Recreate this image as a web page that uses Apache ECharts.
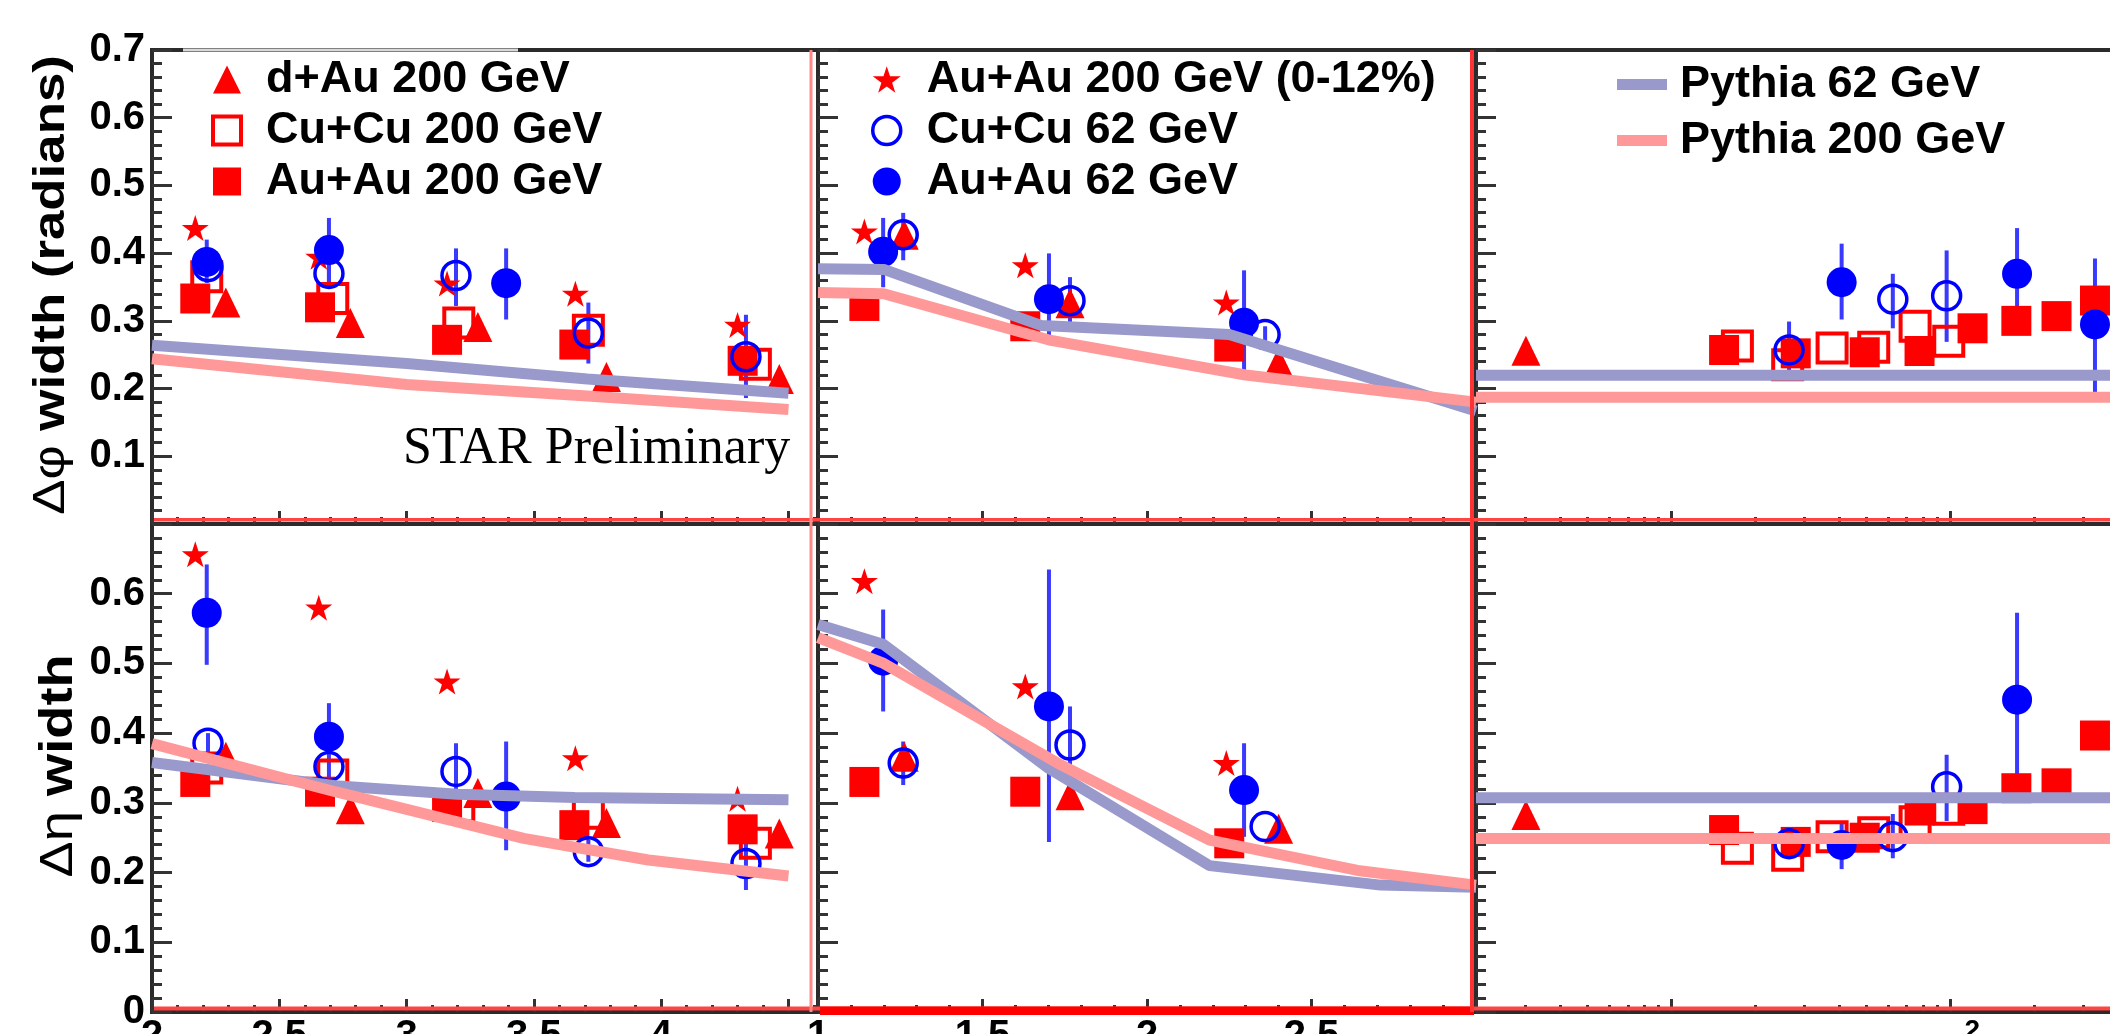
<!DOCTYPE html>
<html><head><meta charset="utf-8">
<script src="https://cdn.jsdelivr.net/npm/echarts@6/dist/echarts.min.js"></script>
<style>html,body{margin:0;padding:0;background:#fff;}#c{width:2110px;height:1034px;}</style>
</head><body><div id="c"></div>
<script>
// ---------------- DATA ----------------
// tick values / labels
const yTicksTop = [0.1,0.2,0.3,0.4,0.5,0.6,0.7];
const yTicksBottom = [0,0.1,0.2,0.3,0.4,0.5,0.6];
const xTicksTrig = [2,2.5,3,3.5,4,4.5];
const xLabelsTrig = [2,2.5,3,3.5,4];
const xTicksAssoc = [1,1.5,2,2.5,3];
const xLabelsAssoc = [1,1.5,2,2.5];
const xTicksNpart = [10,100];
const xMinorNpart = [3,4,5,6,7,8,9,20,30,40,50,60,70,80,90,200,300,400];

// Panel: Δφ width vs pT trigger (top-left)
const dphiTrig_Pythia62  = [[2,0.264],[3,0.237],[3.71,0.214],[4.5,0.193]];
const dphiTrig_Pythia200 = [[2,0.244],[3,0.206],[3.71,0.189],[4.5,0.169]];
const dphiTrig_AuAu200   = [[2.17,0.333],[2.66,0.320],[3.159,0.272],[3.659,0.265],[4.32,0.241]];
const dphiTrig_CuCu200   = [[2.215,0.365],[2.71,0.333],[3.205,0.297],[3.714,0.286],[4.37,0.236]];
const dphiTrig_dAu200    = [[2.29,0.327],[2.779,0.297],[3.28,0.291],[3.785,0.217],[4.464,0.214]];
const dphiTrig_AuAu200c  = [[2.17,0.437],[2.655,0.3945],[3.159,0.355],[3.663,0.340],[4.30,0.294]];
const dphiTrig_CuCu62    = [[2.22,0.38,0.38,0.38],[2.695,0.37,0.35,0.39],[3.194,0.367,0.322,0.407],[3.714,0.282,0.237,0.327],[4.333,0.247,0.186,0.309]];
const dphiTrig_AuAu62    = [[2.215,0.387,0.356,0.42],[2.695,0.4045,0.35,0.452],[3.391,0.3556,0.302,0.407]];

// Panel: Δφ width vs pT associated (top-middle)
const dphiAssoc_Pythia62  = [[1,0.377],[1.2,0.376],[1.68,0.293],[2.25,0.280],[3,0.167]];
const dphiAssoc_Pythia200 = [[1,0.342],[1.2,0.340],[1.7,0.272],[2.3,0.220],[3,0.180]];
const dphiAssoc_AuAu200   = [[1.141,0.322],[1.630,0.292],[2.25,0.262]];
const dphiAssoc_dAu200    = [[1.262,0.427],[1.766,0.326],[2.40,0.239]];
const dphiAssoc_AuAu200c  = [[1.141,0.432],[1.630,0.382],[2.241,0.327]];
const dphiAssoc_CuCu62    = [[1.259,0.427,0.3895,0.4595],[1.766,0.3297,0.2897,0.3646],[2.359,0.2797,0.268,0.292]];
const dphiAssoc_AuAu62    = [[1.198,0.402,0.3496,0.452],[1.702,0.332,0.2647,0.3996],[2.295,0.2972,0.2173,0.3746]];

// Panel: Δφ width vs Npart (top-right)
const dphiNpart_Pythia62  = [[2,0.2196],[480,0.2196]];
const dphiNpart_Pythia200 = [[2,0.187],[480,0.187]];
const dphiNpart_AuAu200   = [[15.5,0.257],[28.0,0.252],[49.5,0.2536],[77.8,0.2555],[120.5,0.289],[173,0.300],[241,0.307],[331,0.33]];
const dphiNpart_CuCu200   = [[17.3,0.263],[26.2,0.235],[37.8,0.260],[53.3,0.261],[75.0,0.292],[99.0,0.270]];
const dphiNpart_dAu200    = [[3.02,0.256]];
const dphiNpart_CuCu62    = [[26.5,0.257,0.227,0.299],[62.4,0.332,0.289,0.3695],[97.3,0.337,0.269,0.404]];
const dphiNpart_AuAu62    = [[40.9,0.357,0.302,0.414],[174,0.3695,0.302,0.437],[331,0.2947,0.195,0.392]];

// Panel: Δη width vs pT trigger (bottom-left)
const detaTrig_Pythia62  = [[2,0.358],[2.72,0.3245],[3.2,0.3125],[3.66,0.3077],[4.5,0.3044]];
const detaTrig_Pythia200 = [[2,0.385],[2.72,0.316],[3.46,0.249],[3.95,0.218],[4.5,0.195]];
const detaTrig_AuAu200   = [[2.17,0.330],[2.66,0.316],[3.159,0.294],[3.659,0.268],[4.32,0.262]];
const detaTrig_CuCu200   = [[2.215,0.350],[2.71,0.340],[3.205,0.294],[3.714,0.285],[4.37,0.242]];
const detaTrig_dAu200    = [[2.29,0.366],[2.779,0.291],[3.28,0.314],[3.785,0.271],[4.464,0.256]];
const detaTrig_AuAu200c  = [[2.17,0.6565],[2.655,0.580],[3.159,0.474],[3.663,0.364],[4.30,0.306]];
const detaTrig_CuCu62    = [[2.22,0.3855,0.37,0.40],[2.695,0.352,0.33,0.37],[3.194,0.345,0.306,0.3855],[3.714,0.230,0.2155,0.247],[4.333,0.213,0.175,0.256]];
const detaTrig_AuAu62    = [[2.215,0.5726,0.498,0.642],[2.695,0.395,0.3736,0.443],[3.391,0.309,0.232,0.388]];

// Panel: Δη width vs pT associated (bottom-middle)
const detaAssoc_Pythia62  = [[1,0.556],[1.2,0.527],[1.7,0.35],[2.19,0.21],[2.71,0.182],[3,0.179]];
const detaAssoc_Pythia200 = [[1,0.537],[1.2,0.50],[1.74,0.354],[2.19,0.2465],[2.64,0.203],[3,0.182]];
const detaAssoc_AuAu200   = [[1.141,0.330],[1.630,0.316],[2.25,0.242]];
const detaAssoc_dAu200    = [[1.262,0.366],[1.766,0.311],[2.40,0.263]];
const detaAssoc_AuAu200c  = [[1.141,0.618],[1.630,0.467],[2.241,0.357]];
const detaAssoc_CuCu62    = [[1.259,0.357,0.3256,0.388],[1.766,0.383,0.3305,0.4383],[2.359,0.266,0.266,0.266]];
const detaAssoc_AuAu62    = [[1.198,0.504,0.4311,0.5773],[1.702,0.4383,0.244,0.6349],[2.295,0.3184,0.2513,0.3855]];

// Panel: Δη width vs Npart (bottom-right)
const detaNpart_Pythia62  = [[2,0.3075],[480,0.3075]];
const detaNpart_Pythia200 = [[2,0.249],[480,0.249]];
const detaNpart_AuAu200   = [[15.5,0.261],[28.0,0.244],[49.5,0.250],[77.8,0.289],[120.5,0.291],[173,0.321],[241,0.328],[331,0.3966]];
const detaNpart_CuCu200   = [[17.3,0.235],[26.2,0.225],[37.8,0.2515],[53.3,0.257],[75.0,0.273],[99.0,0.291]];
const detaNpart_dAu200    = [[3.02,0.2826]];
const detaNpart_CuCu62    = [[26.5,0.2415,0.2415,0.2415],[62.4,0.2515,0.2205,0.284],[97.3,0.323,0.274,0.369]];
const detaNpart_AuAu62    = [[40.9,0.2396,0.205,0.272],[174,0.448,0.321,0.5726]];

// ---------------- STYLE / LAYOUT ----------------
const FONT = '"Liberation Sans", Arial, Helvetica, sans-serif';
const SERIF = '"Liberation Serif", "Times New Roman", serif';
const RED = '#ff0000', BLUE = '#0000ff', BLUE_ERR = '#3a3aff', PY62 = '#9999cc', PY200 = '#ff9999';
const FRAME = '#2b2b2b', TICK = '#333333';
const STAR = 'path://M50,0 L61.2,34.5 L97.6,34.5 L68.2,55.9 L79.4,90.5 L50,69.1 L20.6,90.5 L31.8,55.9 L2.4,34.5 L38.8,34.5 Z';
const NONE = 'rgba(0,0,0,0)';

const GX = [152, 818, 1476], GW = [666, 658, 664];
const GY = [50, 524], GH = [474, 488];

const minorTrig = []; for (let i = 21; i <= 46; i++) if (i % 5) minorTrig.push(i / 10);
const minorAssoc = []; for (let i = 11; i <= 29; i++) if (i % 5) minorAssoc.push(i / 10);

const xCfg = [
  {type: 'value', min: 2, max: 4.616, ticks: xTicksTrig, labels: xLabelsTrig, minor: minorTrig},
  {type: 'value', min: 1, max: 3, ticks: xTicksAssoc, labels: xLabelsAssoc, minor: minorAssoc},
  {type: 'log', min: 2, max: 480, ticks: xTicksNpart, labels: xTicksNpart, minor: xMinorNpart}
];

const panelData = [
  {py62: dphiTrig_Pythia62, py200: dphiTrig_Pythia200, AuAu200: dphiTrig_AuAu200, CuCu200: dphiTrig_CuCu200, dAu: dphiTrig_dAu200, star: dphiTrig_AuAu200c, CuCu62: dphiTrig_CuCu62, AuAu62: dphiTrig_AuAu62},
  {py62: dphiAssoc_Pythia62, py200: dphiAssoc_Pythia200, AuAu200: dphiAssoc_AuAu200, CuCu200: null, dAu: dphiAssoc_dAu200, star: dphiAssoc_AuAu200c, CuCu62: dphiAssoc_CuCu62, AuAu62: dphiAssoc_AuAu62},
  {py62: dphiNpart_Pythia62, py200: dphiNpart_Pythia200, AuAu200: dphiNpart_AuAu200, CuCu200: dphiNpart_CuCu200, dAu: dphiNpart_dAu200, star: null, CuCu62: dphiNpart_CuCu62, AuAu62: dphiNpart_AuAu62},
  {py62: detaTrig_Pythia62, py200: detaTrig_Pythia200, AuAu200: detaTrig_AuAu200, CuCu200: detaTrig_CuCu200, dAu: detaTrig_dAu200, star: detaTrig_AuAu200c, CuCu62: detaTrig_CuCu62, AuAu62: detaTrig_AuAu62},
  {py62: detaAssoc_Pythia62, py200: detaAssoc_Pythia200, AuAu200: detaAssoc_AuAu200, CuCu200: null, dAu: detaAssoc_dAu200, star: detaAssoc_AuAu200c, CuCu62: detaAssoc_CuCu62, AuAu62: detaAssoc_AuAu62},
  {py62: detaNpart_Pythia62, py200: detaNpart_Pythia200, AuAu200: detaNpart_AuAu200, CuCu200: detaNpart_CuCu200, dAu: detaNpart_dAu200, star: null, CuCu62: detaNpart_CuCu62, AuAu62: detaNpart_AuAu62}
];

const grids = [], xAxis = [], yAxis = [], series = [];
const labelFont = {fontSize: 40, fontWeight: 'bold', fontFamily: FONT, color: '#000'};

function errRender(params, api) {
  const x = api.value(0), lo = api.value(2), hi = api.value(3);
  const p1 = api.coord([x, lo]), p2 = api.coord([x, hi]);
  return {type: 'line', shape: {x1: p1[0], y1: p1[1], x2: p2[0], y2: p2[1]}, style: {stroke: BLUE_ERR, lineWidth: 4}};
}

for (let r = 0; r < 2; r++) {
  for (let c = 0; c < 3; c++) {
    const g = r * 3 + c;
    const cfg = xCfg[c];
    grids.push({left: GX[c], top: GY[r], width: GW[c], height: GH[r], show: true, borderColor: FRAME, borderWidth: 4,
      backgroundColor: 'transparent', containLabel: false, outerBoundsMode: 'none'});
    const base = {type: cfg.type, gridIndex: g, min: cfg.min, max: cfg.max, position: 'bottom', splitLine: {show: false}, axisLine: {show: false}};
    if (cfg.type === 'log') base.logBase = 10;
    xAxis.push(Object.assign({}, base, {
      axisTick: {show: true, inside: true, length: 13, customValues: cfg.ticks, lineStyle: {color: TICK, width: 3}},
      axisLabel: Object.assign({show: r === 1, customValues: cfg.labels, margin: 5,
        formatter: cfg.type === 'log'
          ? (v => Math.round(v) === 100 ? '{n|10}{s|2}' : '{n|10}')
          : (v => String(+v.toFixed(2))),
        rich: {n: {fontSize: 40, fontWeight: 'bold', fontFamily: FONT, color: '#000', lineHeight: 58, verticalAlign: 'bottom'},
               s: {fontSize: 28, fontWeight: 'bold', fontFamily: FONT, color: '#000', lineHeight: 28, verticalAlign: 'top'}}
      }, labelFont)
    }));
    xAxis.push(Object.assign({}, base, {
      axisTick: {show: true, inside: true, length: 7, customValues: cfg.minor, lineStyle: {color: TICK, width: 3}},
      axisLabel: {show: false}
    }));
    yAxis.push({type: 'value', gridIndex: g, min: 0, max: 0.7, interval: 0.1, splitLine: {show: false}, axisLine: {show: false},
      axisTick: {show: true, inside: true, length: 20, lineStyle: {color: TICK, width: 3}},
      minorTick: {show: true, splitNumber: 5, length: 10, lineStyle: {color: TICK, width: 3}},
      axisLabel: Object.assign({show: c === 0, customValues: r === 0 ? yTicksTop : yTicksBottom, margin: 7,
        formatter: v => (Math.abs(v) < 1e-9 ? '0' : (+v).toFixed(1))}, labelFont)
    });

    const d = panelData[g];
    const common = {xAxisIndex: 2 * g, yAxisIndex: g, silent: true, animation: false, emphasis: {disabled: true}};
    series.push(Object.assign({type: 'line', name: 'Pythia 62 GeV', data: d.py62, showSymbol: false, color: PY62,
      lineStyle: {width: 11, color: PY62, opacity: 1}, itemStyle: {color: PY62}}, common));
    series.push(Object.assign({type: 'line', name: 'Pythia 200 GeV', data: d.py200, showSymbol: false, color: PY200,
      lineStyle: {width: 11, color: PY200, opacity: 1}, itemStyle: {color: PY200}}, common));
    series.push(Object.assign({type: 'scatter', name: 'Au+Au 200 GeV', data: d.AuAu200, symbol: 'rect', symbolSize: 30,
      itemStyle: {color: RED, opacity: 1}}, common));
    if (d.CuCu200) series.push(Object.assign({type: 'scatter', name: 'Cu+Cu 200 GeV', data: d.CuCu200, symbol: 'rect', symbolSize: 29,
      itemStyle: {color: NONE, borderColor: RED, borderWidth: 4, opacity: 1}}, common));
    series.push(Object.assign({type: 'scatter', name: 'd+Au 200 GeV', data: d.dAu, symbol: 'triangle', symbolSize: [29, 30],
      itemStyle: {color: RED, opacity: 1}}, common));
    if (d.star) series.push(Object.assign({type: 'scatter', name: 'Au+Au 200 GeV (0-12%)', data: d.star, symbol: STAR, symbolSize: [27, 26],
      itemStyle: {color: RED, opacity: 1}}, common));
    series.push(Object.assign({type: 'custom', name: 'err62a', data: d.CuCu62, renderItem: errRender, encode: {x: 0, y: 1}}, common));
    series.push(Object.assign({type: 'custom', name: 'err62b', data: d.AuAu62, renderItem: errRender, encode: {x: 0, y: 1}}, common));
    series.push(Object.assign({type: 'scatter', name: 'Cu+Cu 62 GeV', data: d.CuCu62, symbol: 'circle', symbolSize: 28,
      itemStyle: {color: NONE, borderColor: BLUE, borderWidth: 3.5, opacity: 1}}, common));
    series.push(Object.assign({type: 'scatter', name: 'Au+Au 62 GeV', data: d.AuAu62, symbol: 'circle', symbolSize: 30,
      itemStyle: {color: BLUE, opacity: 1}}, common));
  }
}

const legendText = {fontSize: 45, fontWeight: 'bold', fontFamily: FONT, color: '#000', lineHeight: 45};
const legend = [
  {data: [{name: 'd+Au 200 GeV', itemStyle: {color: RED, opacity: 1}}, {name: 'Cu+Cu 200 GeV', itemStyle: {color: NONE, borderColor: RED, borderWidth: 4, opacity: 1}}, {name: 'Au+Au 200 GeV', itemStyle: {color: RED, opacity: 1}}],
   orient: 'vertical', left: 211, top: 57, padding: 0, itemWidth: 28, itemHeight: 28, itemGap: 6, selectedMode: false,
   textStyle: Object.assign({padding: [0, 0, 0, 20]}, legendText)},
  {data: [{name: 'Au+Au 200 GeV (0-12%)', itemStyle: {color: RED, opacity: 1}}, {name: 'Cu+Cu 62 GeV', itemStyle: {color: NONE, borderColor: BLUE, borderWidth: 3.5, opacity: 1}}, {name: 'Au+Au 62 GeV', itemStyle: {color: BLUE, opacity: 1}}],
   orient: 'vertical', left: 871, top: 57, padding: 0, itemWidth: 28, itemHeight: 28, itemGap: 6, selectedMode: false,
   textStyle: Object.assign({padding: [0, 0, 0, 21]}, legendText)},
  {data: [{name: 'Pythia 62 GeV', icon: 'rect', itemStyle: {color: PY62, opacity: 1}}, {name: 'Pythia 200 GeV', icon: 'rect', itemStyle: {color: PY200, opacity: 1}}],
   orient: 'vertical', left: 1617, top: 62, padding: 0, itemWidth: 50, itemHeight: 11, itemGap: 11, selectedMode: false,
   textStyle: Object.assign({padding: [0, 0, 0, 8]}, legendText)}
];

const graphic = [
  // decorative red frame lines of the original figure
  {type: 'rect', silent: true, z: 100, shape: {x: 154, y: 518, width: 1956, height: 3.5}, style: {fill: '#ff4444'}},
  {type: 'rect', silent: true, z: 100, shape: {x: 154, y: 1006.5, width: 1956, height: 4}, style: {fill: '#ff4444'}},
  {type: 'rect', silent: true, z: 100, shape: {x: 820, y: 1006.5, width: 654, height: 8.5}, style: {fill: '#ff0000'}},
  {type: 'rect', silent: true, z: 100, shape: {x: 809.5, y: 50, width: 3, height: 962}, style: {fill: '#ff8888'}},
  {type: 'rect', silent: true, z: 100, shape: {x: 1470, y: 50, width: 4, height: 962}, style: {fill: '#ff3333'}},
  {type: 'rect', silent: true, z: 100, shape: {x: 183, y: 48.5, width: 335, height: 3}, style: {fill: '#d8d8d8'}},
  // axis titles
  {type: 'text', x: 52, y: 285, rotation: Math.PI / 2, scaleX: 1.2, silent: true, z: 100,
   style: {text: '{g|Δφ}{b| width (radians)}', align: 'center', verticalAlign: 'middle', textAlign: 'center', textVerticalAlign: 'middle', fill: '#000',
     rich: {g: {fontSize: 44, fontFamily: FONT, fontWeight: 'normal', fill: '#000'}, b: {fontSize: 44, fontFamily: FONT, fontWeight: 'bold', fill: '#000'}}}},
  {type: 'text', x: 59, y: 766, rotation: Math.PI / 2, scaleX: 1.18, silent: true, z: 100,
   style: {text: '{g|Δη}{b| width}', align: 'center', verticalAlign: 'middle', textAlign: 'center', textVerticalAlign: 'middle', fill: '#000',
     rich: {g: {fontSize: 46, fontFamily: FONT, fontWeight: 'normal', fill: '#000'}, b: {fontSize: 46, fontFamily: FONT, fontWeight: 'bold', fill: '#000'}}}},
  {type: 'text', x: 403, y: 449, silent: true, z: 100,
   style: {text: 'STAR Preliminary', font: '52px ' + SERIF, fontSize: 52, fontFamily: SERIF, align: 'left', verticalAlign: 'middle', textAlign: 'left', textVerticalAlign: 'middle', fill: '#000'}}
];

const chart = echarts.init(document.getElementById('c'), null, {renderer: 'canvas', width: 2110, height: 1034});
chart.setOption({
  backgroundColor: '#ffffff',
  animation: false,
  grid: grids, xAxis: xAxis, yAxis: yAxis, series: series, legend: legend, graphic: graphic,
  tooltip: {show: false}
});
</script></body></html>
